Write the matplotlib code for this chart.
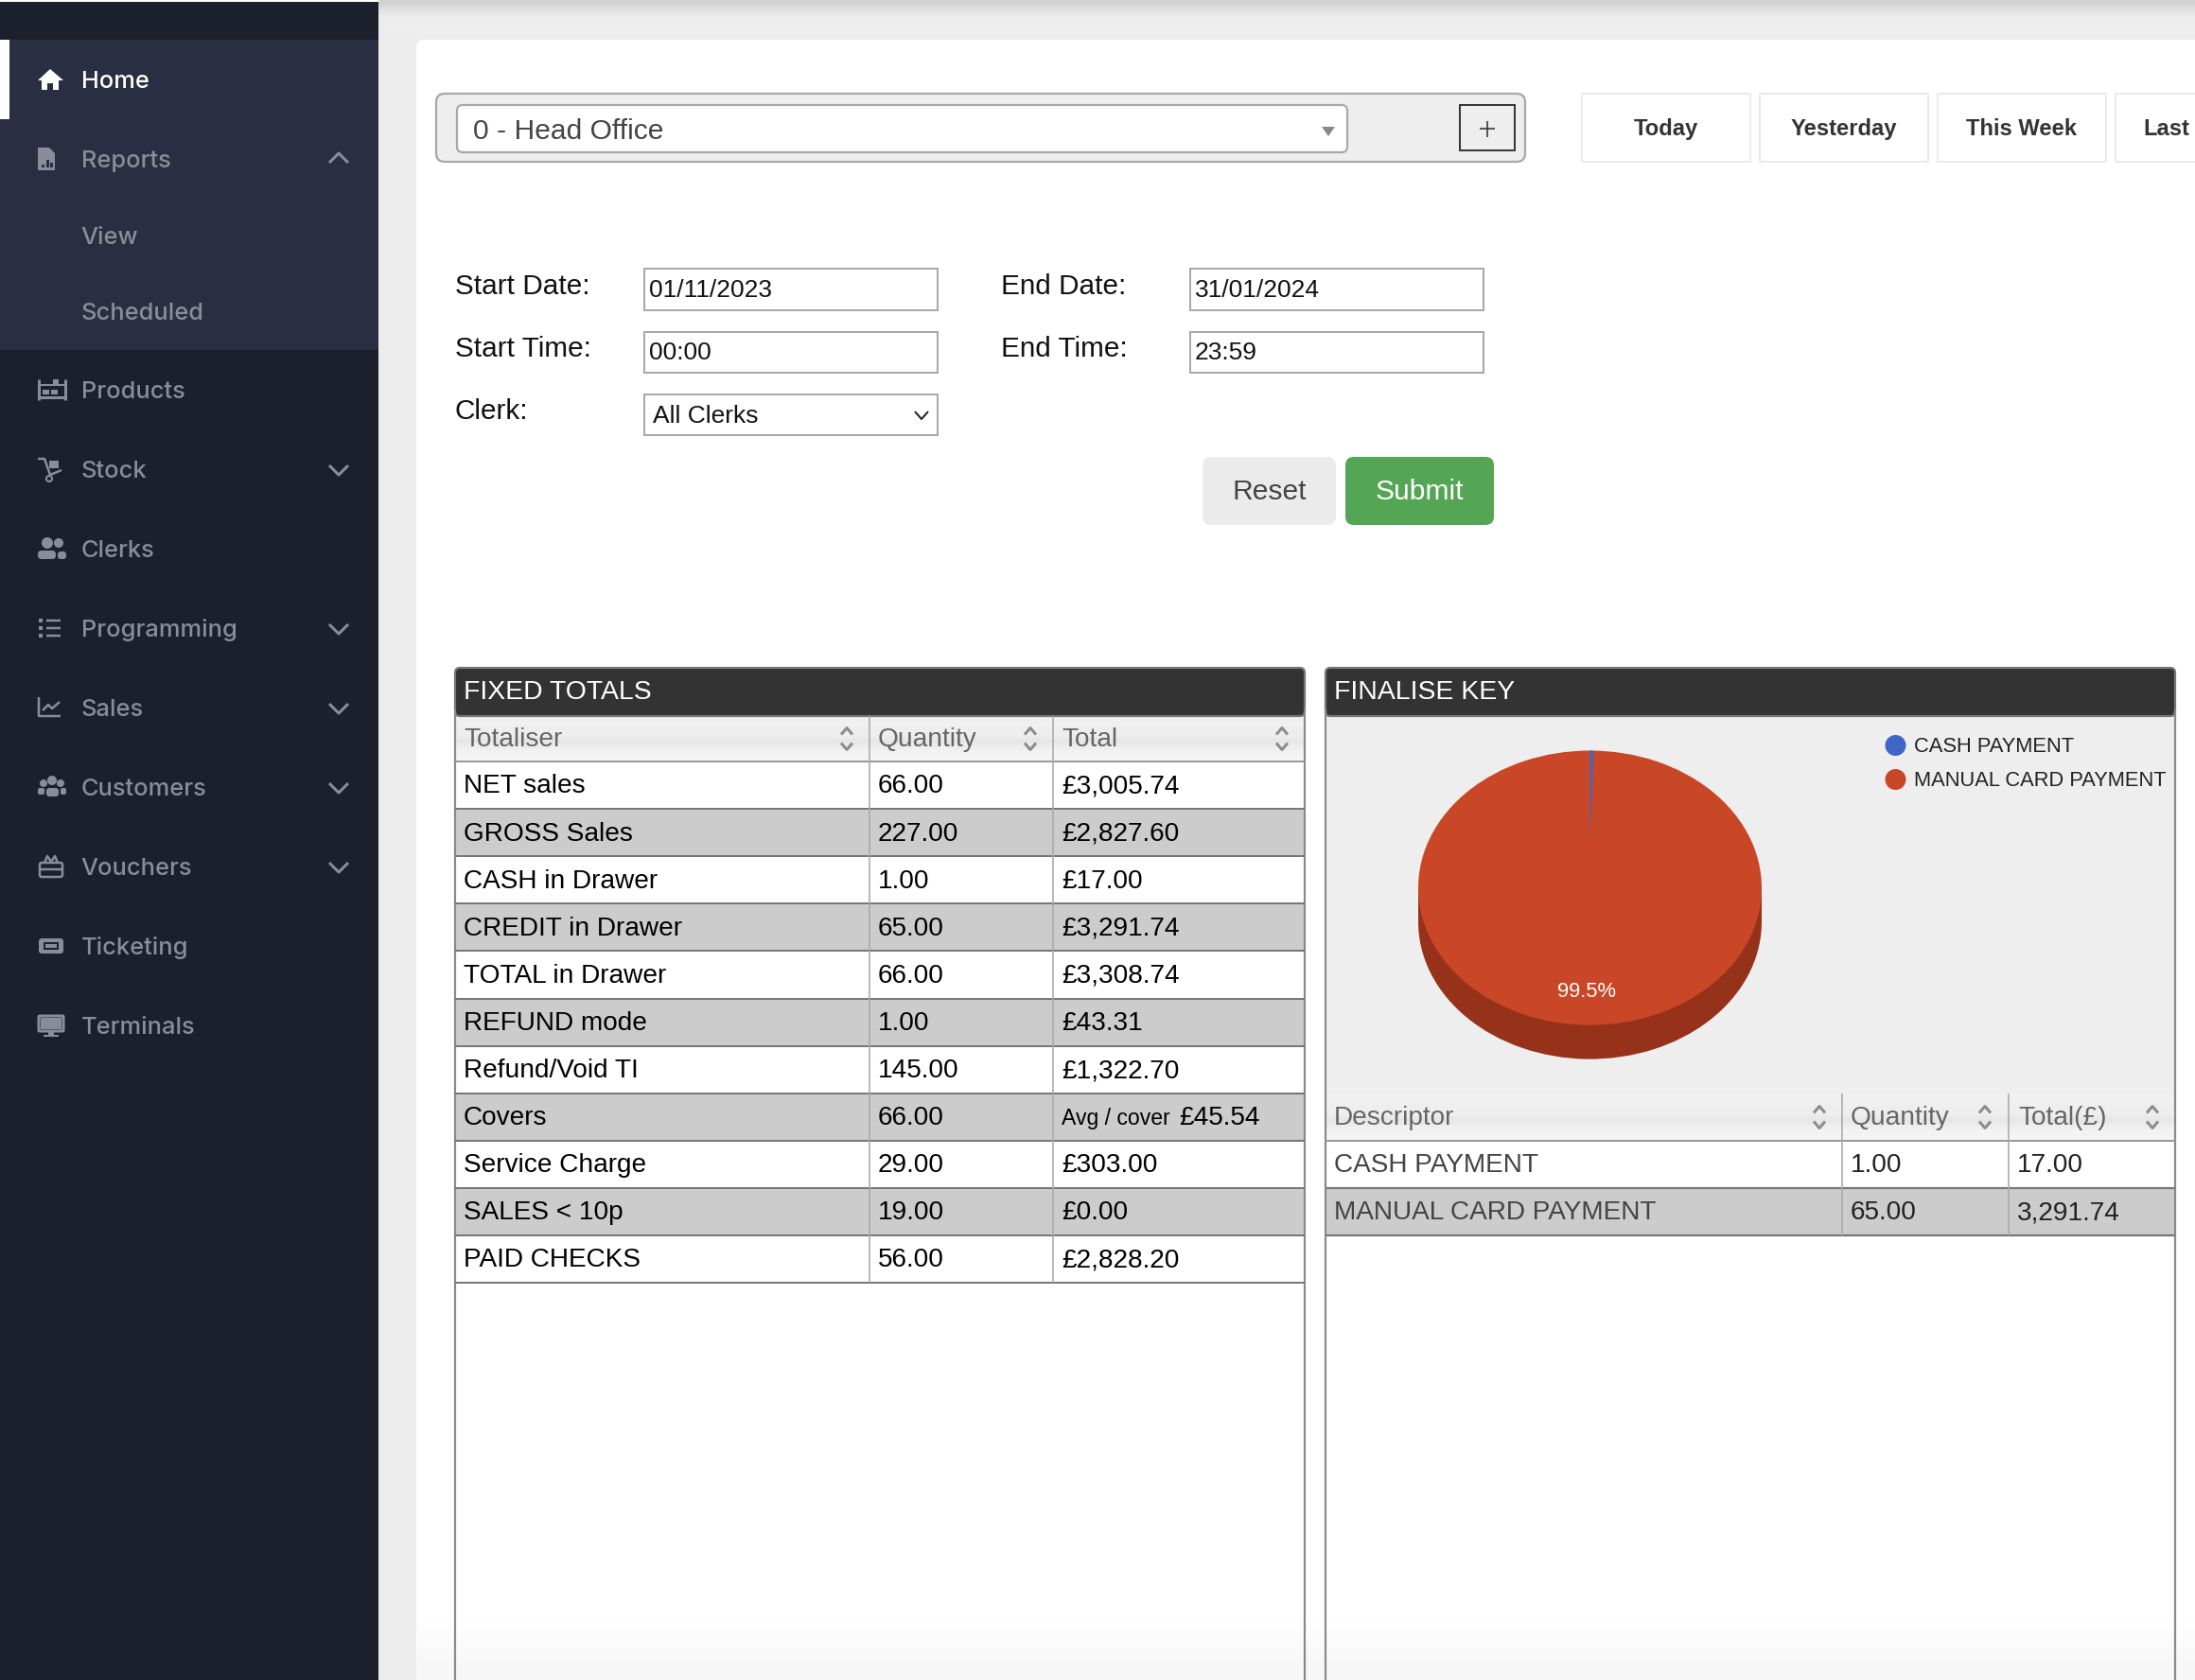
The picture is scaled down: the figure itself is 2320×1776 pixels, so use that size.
import numpy as np
import matplotlib
matplotlib.use('Agg')
import matplotlib.pyplot as plt
from matplotlib.patches import FancyBboxPatch, Rectangle, Circle, Ellipse, Polygon

W, H = 2320, 1776

# sidebar
nav_items = ['Home', 'Reports', 'View', 'Scheduled', 'Products', 'Stock', 'Clerks',
             'Programming', 'Sales', 'Customers', 'Vouchers', 'Ticketing', 'Terminals']
nav_y = [85, 169, 250, 330, 413, 497, 581, 665, 749, 833, 917, 1001, 1085]
nav_down = ['Stock', 'Programming', 'Sales', 'Customers', 'Vouchers']

# fixed totals table
totaliser = ['NET sales', 'GROSS Sales', 'CASH in Drawer', 'CREDIT in Drawer', 'TOTAL in Drawer',
             'REFUND mode', 'Refund/Void TI', 'Covers', 'Service Charge', 'SALES < 10p', 'PAID CHECKS']
quantity = [66.00, 227.00, 1.00, 65.00, 66.00, 1.00, 145.00, 66.00, 29.00, 19.00, 56.00]
total = [3005.74, 2827.60, 17.00, 3291.74, 3308.74, 43.31, 1322.70, 45.54, 303.00, 0.00, 2828.20]

# finalise key table and pie
finalise_names = ['CASH PAYMENT', 'MANUAL CARD PAYMENT']
finalise_qty = [1.00, 65.00]
finalise_total = [17.00, 3291.74]
pie_colors = ['#3F66C6', '#C94726']
pie_dark = '#97321A'

range_buttons = ['Today', 'Yesterday', 'This Week', 'Last']
button_x = [1672, 1860, 2048, 2236]

SANS = 'Liberation Sans'
SIDE = 'Inter'
SIDE_GREY = '#8A8D99'

fig = plt.figure(figsize=(W / 100, H / 100), dpi=100, facecolor='#EDEDED')
ax = fig.add_axes([0, 0, 1, 1])
ax.axis('off')


def box(x0, y0, x1, y1, fc='white', ec='none', lw=0, r=0, z=1):
    if r:
        p = FancyBboxPatch((x0, y0), x1 - x0, y1 - y0, boxstyle='round,pad=0,rounding_size=%s' % r,
                           fc=fc, ec=ec, lw=lw, zorder=z)
    else:
        p = Rectangle((x0, y0), x1 - x0, y1 - y0, fc=fc, ec=ec, lw=lw, zorder=z)
    ax.add_patch(p)


def label(x, y, s, px, color='black', ha='left', family=SANS, weight='normal', z=5):
    # y is the middle of the capitals, px the font size in image pixels
    ax.text(x, y + 0.30 * px, s, fontsize=px * 0.72, color=color, ha=ha, va='baseline',
            family=family, weight=weight, zorder=z)


def line(xs, ys, color, lw=2, z=4):
    ax.plot(xs, ys, color=color, lw=lw * 0.72, zorder=z, solid_capstyle='butt')


def gradient(x0, y0, x1, y1, values, z=2):
    ax.imshow(np.array(values)[:, None], extent=(x0, x1, y1, y0), cmap='gray', vmin=0, vmax=1,
              aspect='auto', zorder=z, interpolation='bilinear')


def chevron(x, y, up, color=SIDE_GREY, w=10, h=6, lw=2.5):
    d = -h if up else h
    line([x - w, x, x + w], [y - d / 2, y + d / 2, y - d / 2], color, lw, 6)


def sort_arrows(x, y):
    chevron(x, y - 8, True, '#8C8C8C', 6, 7, 3)
    chevron(x, y + 8, False, '#8C8C8C', 6, 7, 3)


def nav_icon(name, y):
    c = 'white' if name == 'Home' else SIDE_GREY
    if name == 'Home':
        ax.add_patch(Polygon([[40, y + 1], [53, y - 11], [67, y + 1]], fc=c, zorder=6))
        ax.add_patch(Polygon([[44, y], [62, y], [62, y + 11], [56, y + 11], [56, y + 4], [50, y + 4],
                              [50, y + 11], [44, y + 11]], fc=c, zorder=6))
    elif name == 'Reports':
        ax.add_patch(Polygon([[40, y - 12], [52, y - 12], [58, y - 6], [58, y + 12], [40, y + 12]], fc=c, zorder=6))
        for bx, bt in zip([44, 49, 53], [y + 6, y + 1, y + 4]):
            box(bx, bt, bx + 2.5, y + 9, '#2A2E42', z=7)
    elif name == 'Products':
        line([41, 41], [y - 11, y + 11], c, 3, 6)
        line([69, 69], [y - 11, y + 11], c, 3, 6)
        line([41, 69], [y - 5, y - 5], c, 2, 6)
        line([41, 69], [y + 8, y + 8], c, 3, 6)
        box(45, y, 52, y + 5, c, z=6)
        box(54, y, 61, y + 5, c, z=6)
        box(56, y - 11, 62, y - 6, c, z=6)
    elif name == 'Stock':
        line([40, 47, 53, 65], [y - 11, y - 11, y + 6, y + 1], c, 2.5, 6)
        box(52, y - 9, 62, y - 1, c, z=6)
        ax.add_patch(Circle((52, y + 10), 3, fc='none', ec=c, lw=1.5, zorder=6))
    elif name == 'Clerks':
        ax.add_patch(Circle((50, y - 6), 6, fc=c, zorder=6))
        ax.add_patch(Circle((62, y - 6), 5, fc=c, zorder=6))
        box(40, y + 2, 59, y + 11, c, r=4, z=6)
        box(61, y + 3, 70, y + 11, c, r=3, z=6)
    elif name == 'Programming':
        for dy in (-8, 0, 8):
            box(41, y + dy - 2, 45, y + dy + 2, c, z=6)
            line([49, 64], [y + dy, y + dy], c, 2.5, 6)
    elif name == 'Sales':
        line([41, 41, 64], [y - 11, y + 9, y + 9], c, 2.5, 6)
        line([45, 51, 55, 63], [y + 3, y - 3, y + 1, y - 6], c, 2.5, 6)
    elif name == 'Customers':
        for cx, cy, rr in ((46, y - 4, 4), (55, y - 7, 5), (64, y - 4, 4)):
            ax.add_patch(Circle((cx, cy), rr, fc=c, zorder=6))
        box(49, y + 1, 62, y + 10, c, r=3, z=6)
        box(40, y + 1, 47, y + 8, c, r=2, z=6)
        box(64, y + 1, 70, y + 8, c, r=2, z=6)
    elif name == 'Vouchers':
        box(42, y - 4, 66, y + 11, 'none', c, 1.8, r=2, z=6)
        line([42, 66], [y + 3, y + 3], c, 2.5, 6)
        line([47, 50, 54, 58, 61], [y - 4, y - 11, y - 5, y - 11, y - 4], c, 2.5, 6)
    elif name == 'Ticketing':
        box(41, y - 8, 67, y + 8, c, r=3, z=6)
        box(46, y - 4, 62, y + 4, '#1C202D', z=7)
        box(48, y - 2, 60, y + 2, c, z=8)
    elif name == 'Terminals':
        box(41, y - 10, 67, y + 6, 'none', c, 2.2, r=1, z=6)
        box(43, y - 8, 65, y + 4, c, z=6)
        box(51, y + 6, 57, y + 10, c, z=6)
        box(46, y + 10, 62, y + 12, c, z=6)


# page background, sidebar
gradient(400, 0, W, 28, [0.82, 0.88, 0.92, 0.93], z=0)
box(0, 0, 400, H, '#1C202D', z=1)
box(0, 2, 400, 42, '#1C202C', z=1)
box(0, 0, 400, 2, 'white', z=2)
box(0, 42, 400, 370, '#2A2E42', z=1)
box(0, 42, 10, 126, 'white', z=2)
for name, y in zip(nav_items, nav_y):
    color = 'white' if name == 'Home' else SIDE_GREY
    label(85.5, y, name, 25.4, color, family=SIDE, weight='medium', z=6)
    if name not in ('View', 'Scheduled'):
        nav_icon(name, y - 1)
    if name in nav_down:
        chevron(358, y, False, w=10, h=10, lw=3)
chevron(358, 167, True, w=10, h=10, lw=3)

# white card
box(440, 42, W + 30, H + 30, 'white', r=8, z=1)
gradient(440, 1690, W, H, [1.0, 0.985, 0.965], z=1.5)

# office selector
box(461, 99, 1612, 171, '#EEEEEE', '#A8A8A8', 1.6, r=9, z=2)
box(483, 111, 1424, 161, 'white', '#A8A8A8', 1.6, r=6, z=3)
label(500, 138, '0 - Head Office', 30, '#444444')
ax.add_patch(Polygon([[1397, 134], [1411, 134], [1404, 144]], fc='#888888', zorder=5))
box(1543, 111, 1601, 159, '#EEEEEE', '#333333', 1.4, z=3)
line([1572, 1572], [128, 145], '#333333', 1.6)
line([1564, 1580], [136.5, 136.5], '#333333', 1.6)

# range buttons
for name, x in zip(range_buttons, button_x):
    box(x, 99, x + 178, 171, 'white', '#E4E4E4', 1.1, z=2)
    label(x + (89 if name != 'Last' else 54), 136, name, 23.7, '#333333', ha='center', weight='bold')

# form
for x, y, s in [(481, 302, 'Start Date:'), (481, 368, 'Start Time:'), (481, 434, 'Clerk:'),
                (1058, 302, 'End Date:'), (1058, 368, 'End Time:')]:
    label(x, y, s, 29.7, '#111111')
for x0, y0, y1 in [(681, 284, 328), (681, 351, 394), (681, 417, 460), (1258, 284, 328), (1258, 351, 394)]:
    box(x0, y0, x0 + 310, y1, 'white', '#A6A6A6', 1.4, z=2)
for x, y, s in [(686, 306, '01/11/2023'), (686, 372, '00:00'), (690, 439, 'All Clerks'),
                (1263, 306, '31/01/2024'), (1263, 372, '23:59')]:
    label(x, y, s, 26.4, '#111111')
chevron(974, 439, False, '#222222', 7, 8, 2)
box(1271, 483, 1412, 555, '#EBEBEB', r=9, z=2)
box(1422, 483, 1579, 555, '#54A654', r=9, z=2)
label(1342, 519, 'Reset', 30, '#444444', ha='center')
label(1500, 519, 'Submit', 30, 'white', ha='center')

# panels
HEAD_VALUES = [0.94, 0.94, 0.93, 0.93, 0.90, 0.93, 0.95, 0.96]
for x0, x1, title in [(481, 1379, 'FIXED TOTALS'), (1401, 2299, 'FINALISE KEY')]:
    box(x0, 706, x1, 757, '#333333', '#777777', 1.6, r=5, z=3)
    label(x0 + 9, 730, title, 28.4, 'white')
    line([x0, x0], [750, H], '#8A8A8A', 2.2)
    line([x1, x1], [750, H], '#8A8A8A', 2.2)

# fixed totals table
ROW_TOP = 805
ROW_H = 50.1
gradient(481, 757, 1379, 805, HEAD_VALUES)
for x, s in [(490, 'Totaliser'), (928, 'Quantity'), (1122, 'Total')]:
    label(x, 781, s, 28, '#666666')
for x in (895, 1089, 1355):
    sort_arrows(x, 781)
for i, name in enumerate(totaliser):
    top = ROW_TOP + i * ROW_H
    if i % 2:
        box(481, top, 1379, top + ROW_H, '#CCCCCC', z=2)
    mid = top + ROW_H / 2
    label(490, mid, name, 28)
    label(928, mid, '%.2f' % quantity[i], 28)
    if name == 'Covers':
        label(1122, mid + 1, 'Avg / cover', 23)
        label(1246, mid, '£{:,.2f}'.format(total[i]), 28)
    else:
        label(1122, mid, '£{:,.2f}'.format(total[i]), 28)
    line([481, 1379], [top + ROW_H, top + ROW_H], '#777777', 2)
line([481, 1379], [ROW_TOP, ROW_TOP], '#999999', 2)
table_bottom = ROW_TOP + len(totaliser) * ROW_H
for x in (919, 1113):
    line([x, x], [757, table_bottom], '#AAAAAA', 1.6)

# finalise key: chart area, table
box(1401, 757, 2299, 1156, '#EEEEEE', z=2)
gradient(1401, 1156, 2299, 1206, HEAD_VALUES)
for x, s in [(1410, 'Descriptor'), (1956, 'Quantity'), (2133, 'Total(£)')]:
    label(x, 1181, s, 28, '#666666')
for x in (1923, 2098, 2275):
    sort_arrows(x, 1181)
for i, name in enumerate(finalise_names):
    top = 1206 + i * 50
    if i % 2:
        box(1401, top, 2299, top + 50, '#CCCCCC', z=2)
    mid = top + 25
    label(1410, mid, name, 28, '#444444')
    label(1956, mid, '%.2f' % finalise_qty[i], 28, '#222222')
    label(2132, mid, '{:,.2f}'.format(finalise_total[i]), 28, '#222222')
    line([1401, 2299], [top + 50, top + 50], '#777777', 2.2)
line([1401, 2299], [1206, 1206], '#999999', 2)
for x in (1947, 2123):
    line([x, x], [1156, 1306], '#AAAAAA', 1.6)

# legend
for name, color, y in zip(finalise_names, pie_colors, [788, 824]):
    ax.add_patch(Ellipse((2003.5, y), 22, 22, fc=color, zorder=5))
    label(2023, y, name, 21.9, '#222222')

ax.set_xlim(0, W)
ax.set_ylim(H, 0)

# pie: dark copy below, then top face; the slice apex sits above the ellipse centre
PIE_L, PIE_R, PIE_T, PIE_B = 1499, 1862, 793.5, 1119.6
DEPTH = 36 / 145
pax = fig.add_axes([PIE_L / W, 1 - PIE_B / H, (PIE_R - PIE_L) / W, (PIE_B - PIE_T) / H])
pax.pie(finalise_total, colors=[pie_dark, pie_dark], startangle=90, counterclock=False,
        center=(0, -DEPTH), wedgeprops={'linewidth': 0})
pax.add_patch(Rectangle((-1, -DEPTH), 2, DEPTH, fc=pie_dark, lw=0))
wedges, _ = pax.pie(finalise_total, colors=pie_colors, startangle=90, counterclock=False,
                    wedgeprops={'linewidth': 0})
wedges[1].set_theta1(0)
wedges[1].set_theta2(360)
wedges[0].set_center((0, 0.349))
wedges[0].set_radius(0.651)
wedges[0].set_zorder(3)
share = finalise_total[1] / sum(finalise_total) * 100
pax.text(-0.02, -0.76, '%.1f%%' % share, color='white', fontsize=22 * 0.72, family=SANS,
         ha='center', va='center', zorder=4)
pax.set_aspect('auto')
pax.set_xlim(-1, 1)
pax.set_ylim(-1 - DEPTH, 1)
pax.axis('off')

fig.savefig('out.png', dpi=100, facecolor=fig.get_facecolor())
